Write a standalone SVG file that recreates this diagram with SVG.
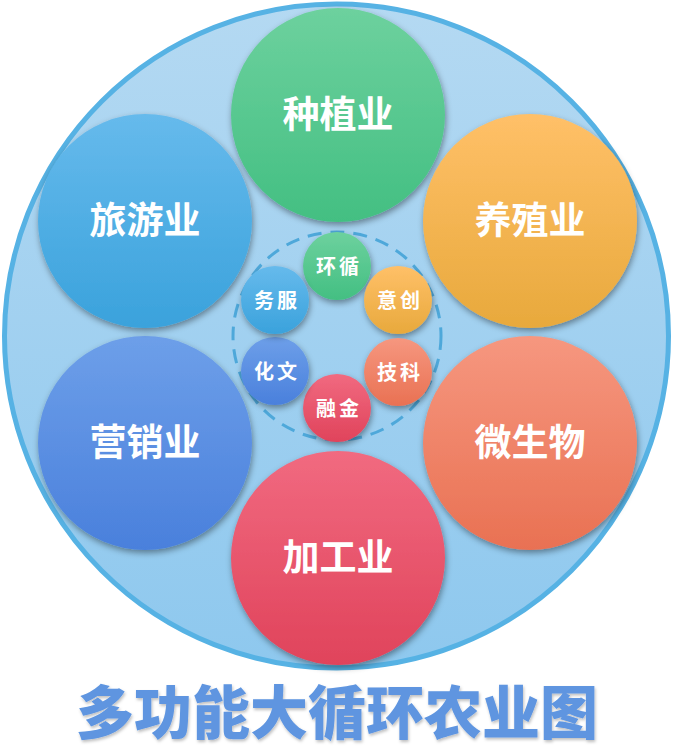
<svg xmlns="http://www.w3.org/2000/svg" width="674" height="755" viewBox="0 0 674 755">
<defs>
<linearGradient id="gBg" x1="0" y1="0" x2="0" y2="1"><stop offset="0" stop-color="#b4d9f2"/><stop offset="1" stop-color="#8ec8ee"/></linearGradient>
<linearGradient id="gGreen" x1="0" y1="0" x2="0" y2="1"><stop offset="0" stop-color="#6dd19e"/><stop offset="1" stop-color="#43bf82"/></linearGradient>
<linearGradient id="gOrange" x1="0" y1="0" x2="0" y2="1"><stop offset="0" stop-color="#ffc068"/><stop offset="1" stop-color="#e8a93c"/></linearGradient>
<linearGradient id="gSalmon" x1="0" y1="0" x2="0" y2="1"><stop offset="0" stop-color="#f6977f"/><stop offset="1" stop-color="#e97153"/></linearGradient>
<linearGradient id="gRed" x1="0" y1="0" x2="0" y2="1"><stop offset="0" stop-color="#f16a80"/><stop offset="1" stop-color="#e0435b"/></linearGradient>
<linearGradient id="gRoyal" x1="0" y1="0" x2="0" y2="1"><stop offset="0" stop-color="#6d9fe9"/><stop offset="1" stop-color="#4a80dc"/></linearGradient>
<linearGradient id="gSky" x1="0" y1="0" x2="0" y2="1"><stop offset="0" stop-color="#66baec"/><stop offset="1" stop-color="#3aa2dc"/></linearGradient>
<filter id="sh" x="-20%" y="-20%" width="140%" height="140%"><feDropShadow dx="1" dy="3" stdDeviation="3" flood-color="#000" flood-opacity="0.4"/></filter>
<filter id="tsh" x="-10%" y="-20%" width="120%" height="140%"><feDropShadow dx="1" dy="2" stdDeviation="1.5" flood-color="#000" flood-opacity="0.25"/></filter>
</defs>
<style>
.big{font-family:"Noto Sans CJK SC","Noto Sans",sans-serif;font-weight:700;font-size:37px;fill:#fff;text-anchor:middle}
.small{font-family:"Noto Sans CJK SC","Noto Sans",sans-serif;font-weight:700;font-size:20px;fill:#fff;text-anchor:middle;letter-spacing:3px}
.title{font-family:"Noto Sans CJK SC","Noto Sans",sans-serif;font-weight:900;font-size:58px;fill:#5e95e0;text-anchor:middle}
</style>
<g id="background">
<circle cx="336.5" cy="336" r="332" fill="url(#gBg)" stroke="#56b2e4" stroke-width="5"/>
<circle cx="337" cy="336" r="104" fill="none" stroke="#4ea8da" stroke-width="3" stroke-dasharray="14 9"/>
</g>
<g id="node-zhongzhi"><circle cx="338" cy="115" r="107" fill="url(#gGreen)" filter="url(#sh)"/><text class="big" x="338" y="128">种植业</text></g>
<g id="node-yangzhi"><circle cx="530" cy="221" r="107" fill="url(#gOrange)" filter="url(#sh)"/><text class="big" x="530" y="234">养殖业</text></g>
<g id="node-weishengwu"><circle cx="530" cy="443" r="107" fill="url(#gSalmon)" filter="url(#sh)"/><text class="big" x="530" y="456">微生物</text></g>
<g id="node-jiagong"><circle cx="338" cy="558" r="107" fill="url(#gRed)" filter="url(#sh)"/><text class="big" x="338" y="571">加工业</text></g>
<g id="node-yingxiao"><circle cx="145" cy="443" r="107" fill="url(#gRoyal)" filter="url(#sh)"/><text class="big" x="145" y="456">营销业</text></g>
<g id="node-lvyou"><circle cx="145" cy="221" r="107" fill="url(#gSky)" filter="url(#sh)"/><text class="big" x="145" y="234">旅游业</text></g>
<g id="node-xunhuan"><circle cx="337" cy="266" r="34" fill="url(#gGreen)" filter="url(#sh)"/><text class="small" x="339" y="274">环循</text></g>
<g id="node-chuangyi"><circle cx="398" cy="300" r="34" fill="url(#gOrange)" filter="url(#sh)"/><text class="small" x="400" y="308">意创</text></g>
<g id="node-keji"><circle cx="398" cy="372" r="34" fill="url(#gSalmon)" filter="url(#sh)"/><text class="small" x="400" y="380">技科</text></g>
<g id="node-jinrong"><circle cx="337" cy="408" r="34" fill="url(#gRed)" filter="url(#sh)"/><text class="small" x="339" y="416">融金</text></g>
<g id="node-wenhua"><circle cx="275" cy="371" r="34" fill="url(#gRoyal)" filter="url(#sh)"/><text class="small" x="277" y="379">化文</text></g>
<g id="node-fuwu"><circle cx="275" cy="300" r="34" fill="url(#gSky)" filter="url(#sh)"/><text class="small" x="277" y="308">务服</text></g>
<g id="connectors"></g>
<g id="title"><text class="title" x="337" y="734" filter="url(#tsh)">多功能大循环农业图</text></g>
</svg>
